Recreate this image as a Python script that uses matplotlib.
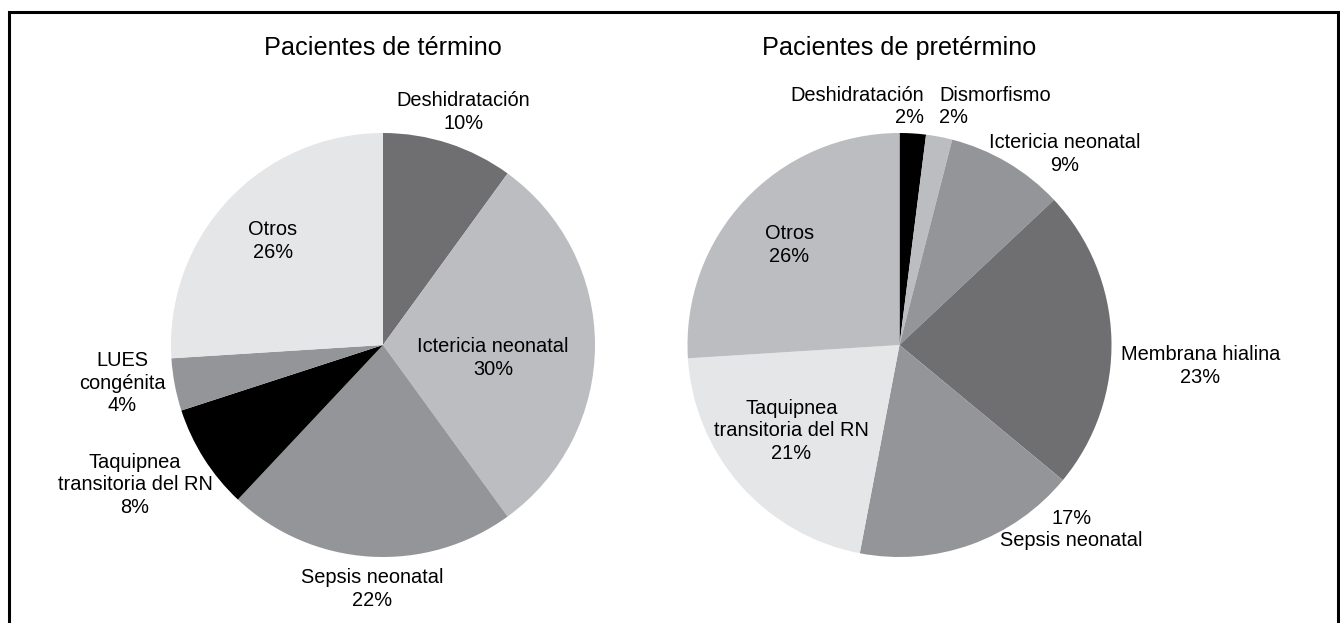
import matplotlib
matplotlib.use("Agg")
import matplotlib.pyplot as plt
from matplotlib.patches import Rectangle

plt.rcParams['font.family'] = ['Liberation Sans', 'DejaVu Sans']

# Pacientes de término
term_labels = ['Deshidratación', 'Ictericia neonatal', 'Sepsis neonatal',
               'Taquipnea\ntransitoria del RN', 'LUES\ncongénita', 'Otros']
term_values = [10, 30, 22, 8, 4, 26]
term_colors = ['#6f6f71', '#bcbdc0', '#949598', '#000000', '#949598', '#e5e6e8']

# Pacientes de pretérmino
pre_labels = ['Deshidratación', 'Dismorfismo', 'Ictericia neonatal', 'Membrana hialina',
              'Sepsis neonatal', 'Taquipnea\ntransitoria del RN', 'Otros']
pre_values = [2, 2, 9, 23, 17, 21, 26]
pre_colors = ['#000000', '#bcbdc0', '#949598', '#6f6f71', '#949598', '#e5e6e8', '#bcbdc0']

# label placement (in pie radii from the centre) and alignment
term_pos = [(0.38, 1.10, 'center'), (0.52, -0.06, 'center'), (-0.05, -1.15, 'center'),
            (-1.17, -0.66, 'center'), (-1.23, -0.18, 'center'), (-0.52, 0.49, 'center')]
pre_pos = [(0.116, 1.125, 'right'), (0.186, 1.125, 'left'), (0.78, 0.90, 'center'),
           (1.42, -0.10, 'center'), (0.81, -0.87, 'center'), (-0.51, -0.405, 'center'),
           (-0.52, 0.47, 'center')]

W, H = 1340, 623
fig = plt.figure(figsize=(W / 100, H / 100), dpi=100)
ax = fig.add_axes([0, 0, 1, 1])

R = 212


def draw_pie(values, colors, labels, pos, cx, cy, title, pct_first=()):
    ax.pie(values, colors=colors, startangle=90, counterclock=False,
           center=(cx, cy), radius=R, frame=True,
           wedgeprops=dict(linewidth=0))
    for i, (lab, v, (dx, dy, ha)) in enumerate(zip(labels, values, pos)):
        if i in pct_first:
            txt = f"{v}%\n{lab}"
        else:
            txt = f"{lab}\n{v}%"
        ax.text(cx + dx * R, cy + dy * R, txt, ha=ha, va='center',
                multialignment=ha, fontsize=14.4, linespacing=1.25)
    ax.text(cx, H - 48, title, ha='center', va='center', fontsize=18.2)


draw_pie(term_values, term_colors, term_labels, term_pos, 383, H - 345,
         'Pacientes de término')
draw_pie(pre_values, pre_colors, pre_labels, pre_pos, 899.5, H - 345,
         'Pacientes de pretérmino', pct_first=(4,))

ax.add_patch(Rectangle((9, -10), 1329, H - 11.5 + 10, fill=False,
                       edgecolor='black', linewidth=2.2))

ax.set_xlim(0, W)
ax.set_ylim(0, H)
ax.set_aspect('equal')
ax.axis('off')

fig.savefig('out.png', dpi=100)
